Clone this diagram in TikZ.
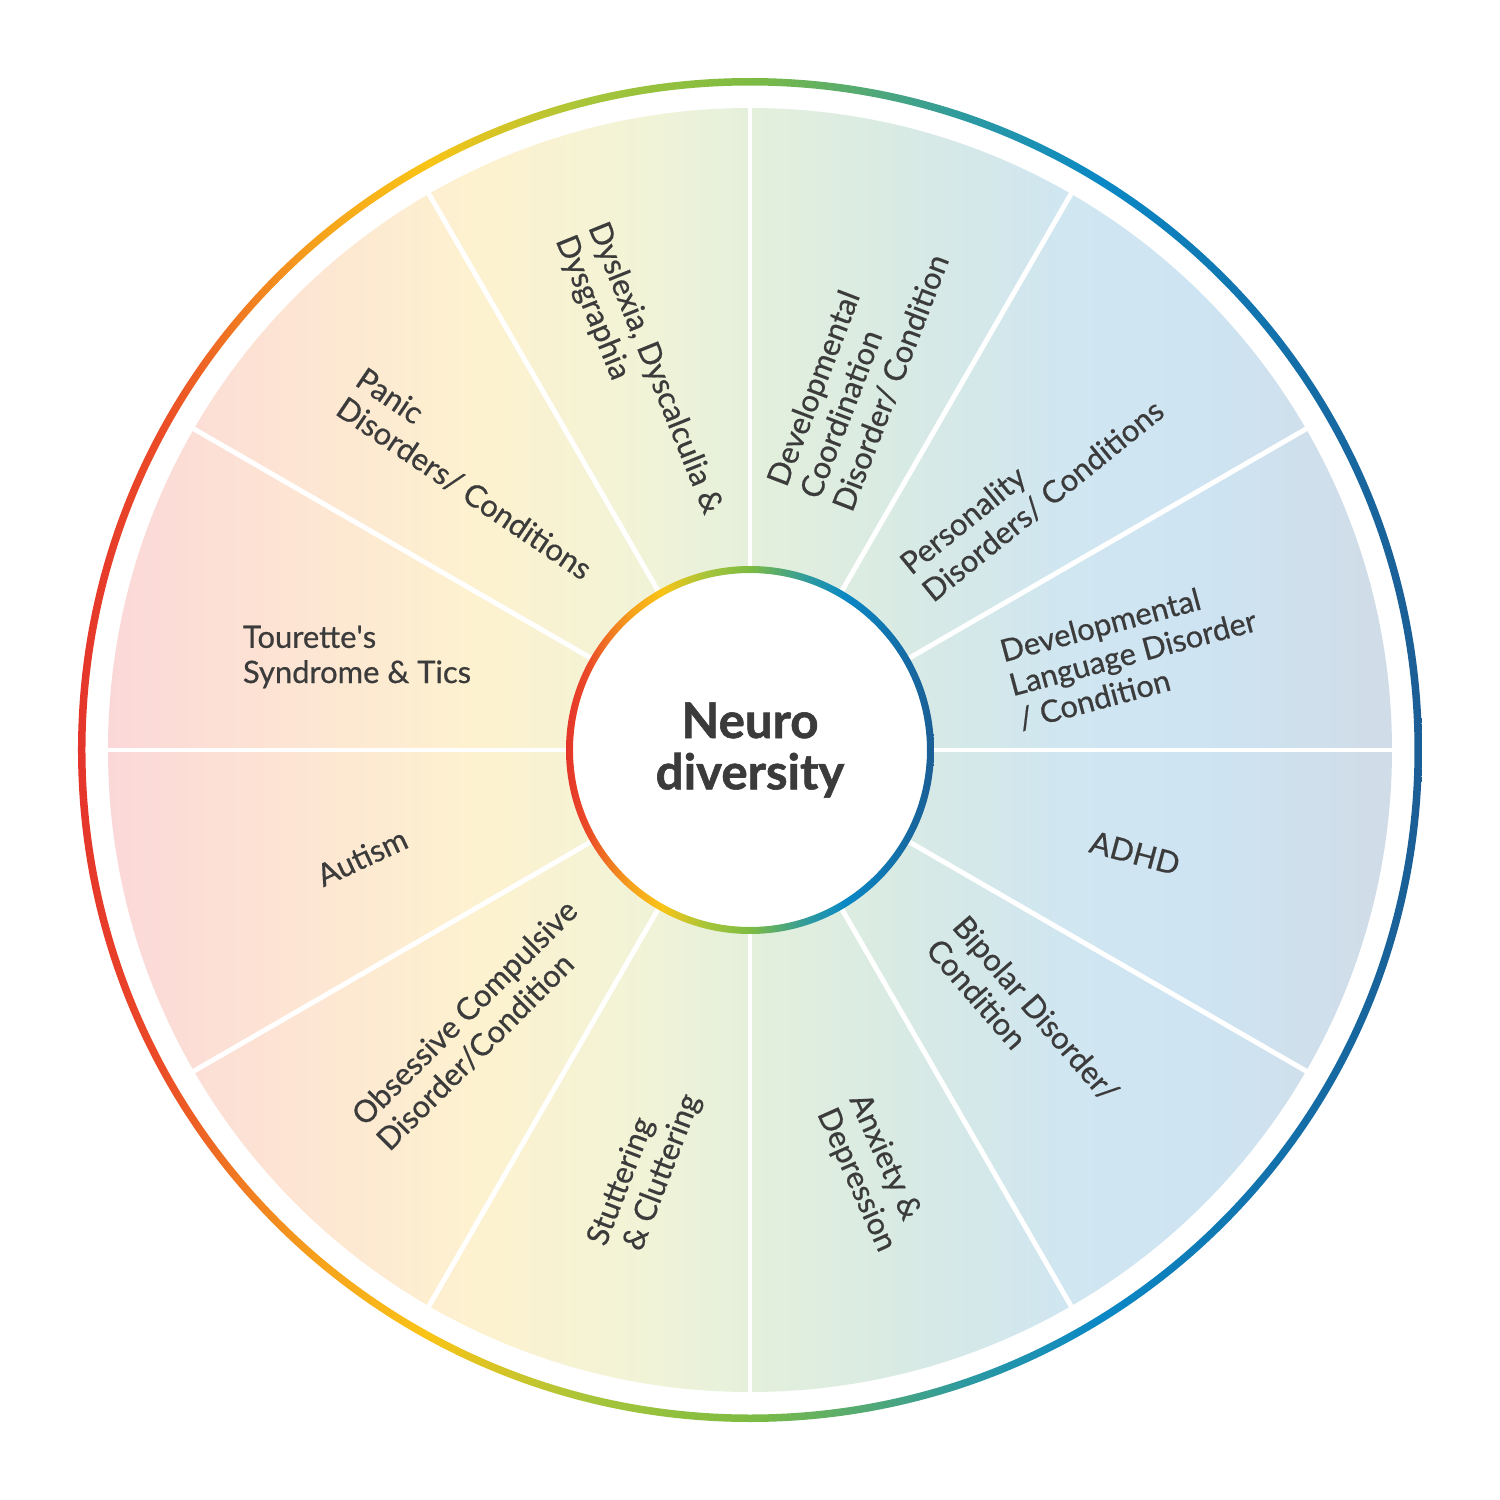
\documentclass[tikz,border=0pt]{standalone}
\usepackage{fontspec}
\setmainfont{Lato}
\newfontfamily\ndlabelfont{Lato}[FakeBold=0.6]
\newfontfamily\ndhubfont{Lato}[FakeBold=1.2]
\usepackage{xcolor}
\usepackage{tikz}
\usetikzlibrary{positioning}
\definecolor{NDText}{HTML}{3B3B3B}
% ring colours
\definecolor{RingRed}{HTML}{E5352B}
\definecolor{RingRedOr}{HTML}{EB4B27}
\definecolor{RingOrange}{HTML}{F07A22}
\definecolor{RingAmber}{HTML}{F6A31C}
\definecolor{RingYellow}{HTML}{F9C416}
\definecolor{RingLime}{HTML}{A7C53A}
\definecolor{RingGreen}{HTML}{7DBB42}
\definecolor{RingTeal}{HTML}{2D9AA0}
\definecolor{RingBlue}{HTML}{0A88C5}
\definecolor{RingNavy}{HTML}{1B5E95}
% segment colours
\definecolor{FillPink}{HTML}{FBD8D8}
\definecolor{FillPeach}{HTML}{FDE5D3}
\definecolor{FillCream}{HTML}{FDF2CF}
\definecolor{FillLime}{HTML}{F1F3D7}
\definecolor{FillMint}{HTML}{E4F0DC}
\definecolor{FillSea}{HTML}{D8EAE4}
\definecolor{FillSky}{HTML}{D0E6F0}
\definecolor{FillBlue}{HTML}{CEE4F2}
\definecolor{FillSteel}{HTML}{D0DCE7}
\pgfdeclarehorizontalshading{ndring}{100bp}{color(0bp)=(RingRed); color(25bp)=(RingRed);
  color(28bp)=(RingRedOr); color(31bp)=(RingOrange); color(34bp)=(RingAmber);
  color(38bp)=(RingYellow); color(44bp)=(RingLime); color(50bp)=(RingGreen);
  color(58bp)=(RingTeal); color(63bp)=(RingBlue); color(75bp)=(RingNavy);
  color(100bp)=(RingNavy)}
\pgfdeclarehorizontalshading{ndfill}{100bp}{color(0bp)=(FillPink); color(25bp)=(FillPink);
  color(32.5bp)=(FillPeach); color(39.5bp)=(FillCream); color(46bp)=(FillLime);
  color(50bp)=(FillMint); color(56bp)=(FillSea); color(62bp)=(FillSky);
  color(67.5bp)=(FillBlue); color(75bp)=(FillSteel); color(100bp)=(FillSteel)}

\begin{document}
\begin{tikzpicture}[
          lbl/.style={font=\ndlabelfont\fontsize{8.8}{10}\selectfont, text=NDText,
                      align=left, inner sep=0pt},
          hub/.style={circle, fill=white, minimum size=3.54cm, inner sep=0pt,
                      font=\ndhubfont\fontsize{14}{15.6}\selectfont\bfseries,
                      text=NDText, align=center},
          divider/.style={white, line width=1.4pt}
        ]
        \fill[white] (-7.5,-7.5) rectangle (7.5,7.5);
        \useasboundingbox (-7.5,-7.5) rectangle (7.5,7.5);

        % Wheel
        \shade[shading=ndfill] (0,0) circle (6.42);
        \foreach \a in {0,30,...,330}
          \draw[divider] (\a:1.7) -- (\a:6.45);
        \shade[shading=ndring, even odd rule] (0,0) circle (6.72) circle (6.645);

        % Hub
        \node[hub] (hub) at (0,0) {Neuro\\[-1pt]diversity};
        \shade[shading=ndring, even odd rule] (0,0) circle (1.84) circle (1.77);

        % Segments
        \node[lbl] (tourette)    at (-3.93, 0.93) {Tourette\textquotesingle s\\Syndrome \& Tics};
        \node[lbl, rotate=25]  (autism)      at (-3.88,-1.07) {Autism};
        \node[lbl, rotate=45]  (ocd)         at (-2.73,-2.75) {Obsessive Compulsive\\Disorder/Condition};
        \node[lbl, rotate=69]  (stuttering)  at (-1.05,-4.20) {Stuttering\\\ \& Cluttering};
        \node[lbl, rotate=-66] (anxiety)     at ( 1.22,-4.23) {Anxiety \&\\Depression};
        \node[lbl, rotate=-49] (bipolar)     at ( 2.73,-2.70) {Bipolar Disorder/\\Condition};
        \node[lbl, rotate=-15] (adhd)        at ( 3.85,-1.03) {ADHD};
        \node[lbl, rotate=15]  (language)    at ( 3.83, 0.97) {Developmental\\Language Disorder\\/ Condition};
        \node[lbl, rotate=39]  (personality) at ( 2.82, 2.63) {Personality\\Disorders/ Conditions};
        \node[lbl, rotate=69]  (coordination) at ( 1.08, 3.80) {Developmental\\Coordination\\Disorder/ Condition};
        \node[lbl, rotate=-68] (dyslexia)    at (-1.12, 3.75) {Dyslexia, Dyscalculia \&\\Dysgraphia};
        \node[lbl, rotate=-34] (panic)       at (-2.76, 2.76) {Panic\\Disorders/ Conditions};
      \end{tikzpicture}
\end{document}
